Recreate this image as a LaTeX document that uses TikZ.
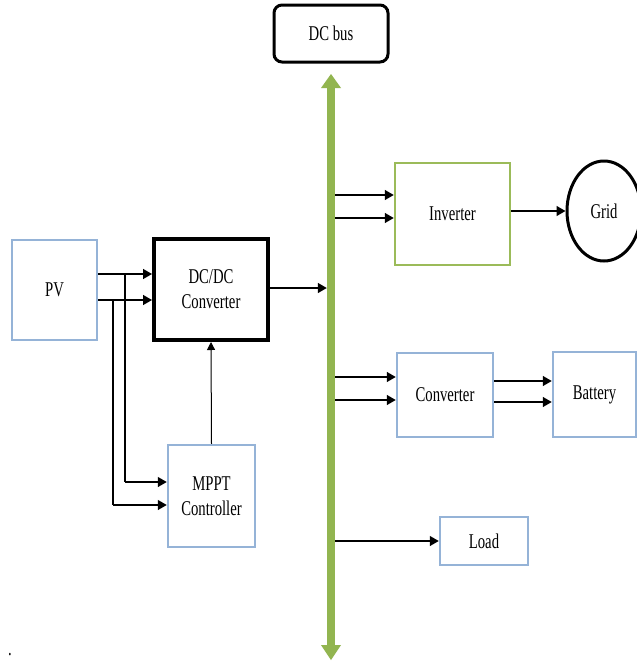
\documentclass[tikz,border=0pt]{standalone}
\usepackage{fontspec}
\setmainfont{Liberation Serif}[FakeStretch=0.7]
\usetikzlibrary{arrows.meta,shapes.geometric}
\definecolor{boxblue}{HTML}{95B3D7}
\definecolor{invgreen}{HTML}{9BBB59}
\definecolor{busgreen}{HTML}{92B550}
\begin{document}
\begin{tikzpicture}[x=1pt,y=-1pt,
  every node/.style={font=\fontsize{21}{25}\selectfont, inner sep=0pt, align=center},
  bluebox/.style={draw=boxblue, line width=2.5pt, fill=white},
  greenbox/.style={draw=invgreen, line width=2.5pt, fill=white},
  blackbox/.style={draw=black, line width=4pt, fill=white},
  arr/.style={draw=black, line width=1.4pt, -{Triangle[length=9pt,width=10pt]}},
  thinarr/.style={draw=black, line width=1pt, -{Triangle[length=8pt,width=8pt]}},
  feed/.style={draw=black, line width=1.4pt}]
\useasboundingbox (0,0) rectangle (637,662);
\fill[white] (0,0) rectangle (637,662);

% DC bus label
\node[draw=black, line width=3pt, rounded corners=8pt, minimum width=114pt, minimum height=57pt] (dcbus) at (331,33.5) {DC bus};

% bus shaft and heads
\node[fill=busgreen, minimum width=8pt, minimum height=557pt] (bus) at (331,366.5) {};
\fill[busgreen] (321,88) -- (331,74) -- (341,88) -- cycle;
\fill[busgreen] (321,645) -- (331,660) -- (341,645) -- cycle;

% blocks
\node[bluebox, minimum width=85pt, minimum height=100pt] (pv) at (54.5,290) {PV};
\node[blackbox, minimum width=114pt, minimum height=101pt] (dcdc) at (211,289.5) {DC/DC\\Converter};
\node[bluebox, minimum width=87pt, minimum height=102pt] (mppt) at (211.5,496) {MPPT\\Controller};
\node[greenbox, minimum width=115pt, minimum height=102pt] (inv) at (452.5,214) {Inverter};
\node[draw=black, line width=3pt, ellipse, minimum width=74pt, minimum height=100pt] (grid) at (604,211) {Grid};
\node[bluebox, minimum width=96pt, minimum height=84pt] (conv) at (445,395) {Converter};
\node[bluebox, minimum width=83pt, minimum height=85pt] (bat) at (594.5,394.5) {Battery};
\node[bluebox, minimum width=88pt, minimum height=48pt] (load) at (484,541) {Load};

% PV to DC/DC
\draw[arr] (pv.east |- 0,274) -- (dcdc.west |- 0,274);
\draw[arr] (pv.east |- 0,300) -- (dcdc.west |- 0,300);
% feeds to MPPT
\coordinate (f1) at (125,274);
\coordinate (f2) at (113,300);
\draw[feed] (f1) -- (f1 |- 0,482);
\draw[arr] (f1 |- 0,482) -- (mppt.west |- 0,482);
\draw[feed] (f2) -- (f2 |- 0,505);
\draw[arr] (f2 |- 0,505) -- (mppt.west |- 0,505);
% MPPT to DC/DC
\draw[thinarr] (mppt.north) -- (dcdc.south);
% DC/DC to bus
\draw[arr] (dcdc.east |- 0,288) -- (bus.west |- 0,288);
% bus to inverter
\draw[arr] (bus.east |- 0,195) -- (inv.west |- 0,195);
\draw[arr] (bus.east |- 0,218) -- (inv.west |- 0,218);
% inverter to grid
\draw[arr] (inv.east |- grid.west) -- (grid.west);
% bus to converter
\draw[arr] (bus.east |- 0,377) -- (conv.west |- 0,377);
\draw[arr] (bus.east |- 0,400) -- (conv.west |- 0,400);
% converter to battery
\draw[arr] (conv.east |- 0,381) -- (bat.west |- 0,381);
\draw[arr] (conv.east |- 0,402) -- (bat.west |- 0,402);
% bus to load
\draw[arr] (bus.east |- load.west) -- (load.west);

% stray dot
\node[anchor=base] (dot) at (10,655) {.};
\end{tikzpicture}
\end{document}
